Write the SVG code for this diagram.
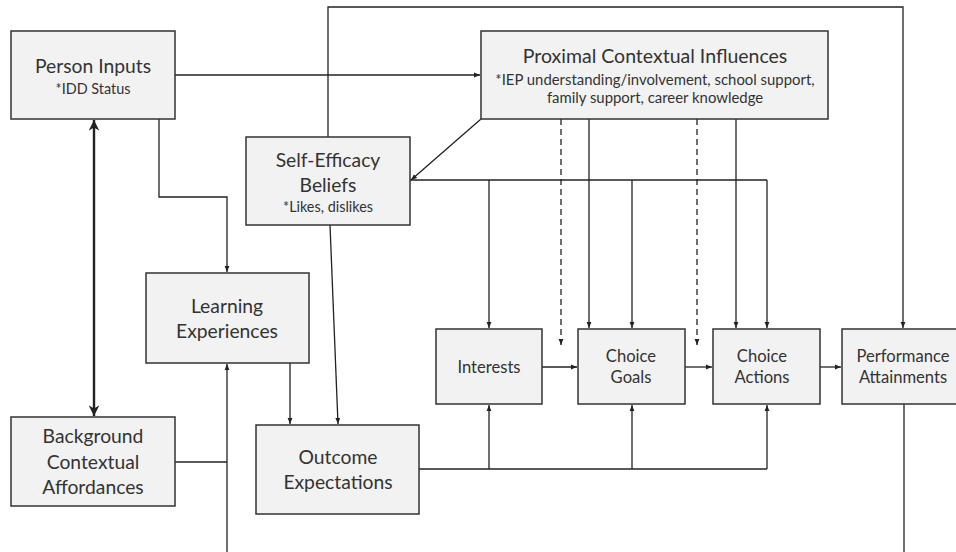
<svg xmlns="http://www.w3.org/2000/svg" width="956" height="552" viewBox="0 0 956 552">
<style>
.box{fill:#f2f2f2;stroke:#333;stroke-width:1.5}
.t{font-family:Lato,"Open Sans","Liberation Sans",sans-serif;fill:#333;text-anchor:middle}
.h{font-size:19.3px}
.m{font-size:16.6px}
.hp{font-size:19.5px}
.s{font-size:14.4px}
.sp{font-size:14.9px}
.ln{fill:none;stroke:#222;stroke-width:1.3}
.ar{marker-end:url(#a)}
.dash{stroke-dasharray:6 4}
.thick{stroke-width:2.4}
</style>
<defs>
<marker id="a" viewBox="0 0 10 10" refX="10" refY="5" markerWidth="6" markerHeight="6" markerUnits="userSpaceOnUse" orient="auto">
<path d="M0,1 L10,5 L0,9 z" fill="#222"/>
</marker>
<marker id="b" viewBox="0 0 10 10" refX="10" refY="5" markerWidth="4.4" markerHeight="4.4" markerUnits="strokeWidth" orient="auto-start-reverse">
<path d="M0,0 L10,5 L0,10 L3,5 z" fill="#222"/>
</marker>
</defs>
<g id="connectors">
<path class="ln ar" d="M175,75 H480"/>
<path class="ln ar" d="M159,119 V197 H227 V272"/>
<path class="ln thick" d="M94,120 V416" marker-start="url(#b)" marker-end="url(#b)"/>
<path class="ln" d="M175,462 H227"/>
<path class="ln ar" d="M227,552 V364"/>
<path class="ln ar" d="M290,363 V424"/>
<path class="ln ar" d="M330,225 L338,424"/>
<path class="ln ar" d="M328,137 V7 H903 V328"/>
<path class="ln ar" d="M481,119 L411,180"/>
<path class="ln" d="M410,180 H767"/>
<path class="ln ar" d="M489,180 V328"/>
<path class="ln ar" d="M632,180 V328"/>
<path class="ln ar" d="M767,180 V328"/>
<path class="ln ar" d="M589,119 V328"/>
<path class="ln ar" d="M736,119 V328"/>
<path class="ln ar dash" d="M561,119 V345"/>
<path class="ln ar dash" d="M697,119 V345"/>
<path class="ln ar" d="M542,367 H577"/>
<path class="ln ar" d="M685,367 H712"/>
<path class="ln ar" d="M820,367 H841"/>
<path class="ln" d="M419,469 H767"/>
<path class="ln ar" d="M489,469 V405"/>
<path class="ln ar" d="M632,469 V405"/>
<path class="ln ar" d="M767,469 V405"/>
<path class="ln" d="M904,404 V552"/>
</g>
<g id="person-inputs">
<rect class="box" x="11" y="31" width="164" height="88"/>
<text class="t h" x="93" y="73">Person Inputs</text>
<text class="t s" x="93" y="94">*IDD Status</text>
</g>
<g id="proximal">
<rect class="box" x="481" y="31" width="347" height="88"/>
<text class="t hp" x="655" y="63">Proximal Contextual Influences</text>
<text class="t sp" x="655" y="85">*IEP understanding/involvement, school support,</text>
<text class="t sp" x="655" y="103">family support, career knowledge</text>
</g>
<g id="self-efficacy">
<rect class="box" x="246" y="137" width="164" height="88"/>
<text class="t h" x="328" y="167">Self-Efficacy</text>
<text class="t h" x="328" y="192">Beliefs</text>
<text class="t s" x="328" y="212">*Likes, dislikes</text>
</g>
<g id="learning">
<rect class="box" x="146" y="273" width="163" height="90"/>
<text class="t h" x="227" y="313">Learning</text>
<text class="t h" x="227" y="338">Experiences</text>
</g>
<g id="background">
<rect class="box" x="11" y="417" width="164" height="89"/>
<text class="t h" x="93" y="443">Background</text>
<text class="t h" x="93" y="469">Contextual</text>
<text class="t h" x="93" y="494">Affordances</text>
</g>
<g id="outcome">
<rect class="box" x="256" y="425" width="163" height="89"/>
<text class="t h" x="338" y="464">Outcome</text>
<text class="t h" x="338" y="489">Expectations</text>
</g>
<g id="interests">
<rect class="box" x="436" y="329" width="106" height="75"/>
<text class="t m" x="489" y="373">Interests</text>
</g>
<g id="choice-goals">
<rect class="box" x="578" y="329" width="107" height="75"/>
<text class="t m" x="631" y="362">Choice</text>
<text class="t m" x="631" y="383">Goals</text>
</g>
<g id="choice-actions">
<rect class="box" x="713" y="329" width="107" height="75"/>
<text class="t m" x="762" y="362">Choice</text>
<text class="t m" x="762" y="383">Actions</text>
</g>
<g id="performance">
<rect class="box" x="842" y="329" width="124" height="75"/>
<text class="t m" x="903" y="362">Performance</text>
<text class="t m" x="903" y="383">Attainments</text>
</g>
</svg>
